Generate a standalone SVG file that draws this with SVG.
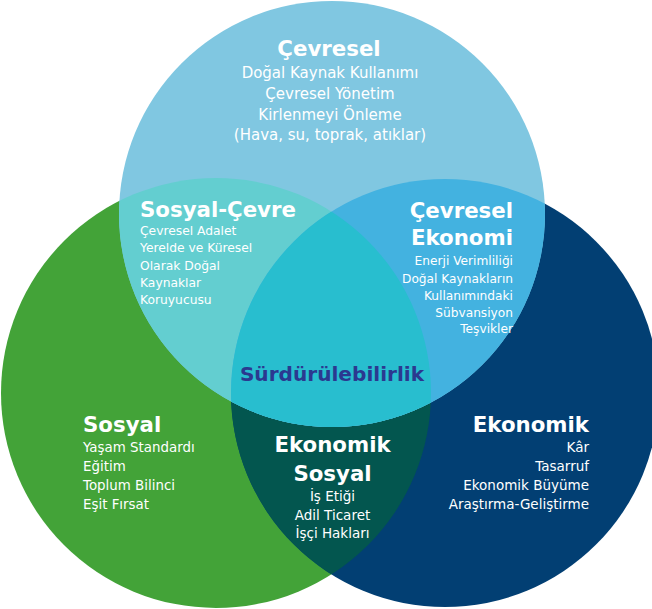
<svg xmlns="http://www.w3.org/2000/svg" width="652" height="609" viewBox="0 0 652 609">
<style>
.t{font-family:"DejaVu Sans","Liberation Sans",sans-serif;font-weight:bold;font-size:21.3px;fill:#fff}
.b{font-family:"DejaVu Sans","Liberation Sans",sans-serif;fill:#fff}
.m{text-anchor:middle}
.e{text-anchor:end}
</style>
<defs>
<clipPath id="cL"><circle cx="216" cy="393" r="215"/></clipPath>
<clipPath id="cR"><circle cx="445" cy="393" r="214"/></clipPath>
</defs>
<rect width="652" height="609" fill="#fff"/>
<g id="sosyal">
<circle cx="216" cy="393" r="215" fill="#43A338"/>
<text class="t" x="83" y="432">Sosyal</text>
<g class="b" font-size="13.4">
<text x="83" y="452">Yaşam Standardı</text>
<text x="83" y="471">Eğitim</text>
<text x="83" y="490">Toplum Bilinci</text>
<text x="83" y="509">Eşit Fırsat</text>
</g>
</g>
<g id="ekonomik">
<circle cx="445" cy="393" r="214" fill="#023F73"/>
<text class="t e" x="589" y="432">Ekonomik</text>
<g class="b e" font-size="13.5">
<text x="589" y="452">Kâr</text>
<text x="589" y="471">Tasarruf</text>
<text x="589" y="490">Ekonomik Büyüme</text>
<text x="589" y="509">Araştırma-Geliştirme</text>
</g>
</g>
<g id="ekonomik-sosyal">
<circle cx="445" cy="393" r="214" fill="#03564F" clip-path="url(#cL)"/>
<text class="t m" x="332.5" y="452">Ekonomik</text>
<text class="t m" x="332.5" y="481">Sosyal</text>
<g class="b m" font-size="13.5">
<text x="332.5" y="501">İş Etiği</text>
<text x="332.5" y="519.5">Adil Ticaret</text>
<text x="332.5" y="538">İşçi Hakları</text>
</g>
</g>
<g id="cevresel">
<circle cx="332" cy="214" r="213" fill="#80C7E1"/>
<text class="t m" x="329" y="56">Çevresel</text>
<g class="b m" font-size="15">
<text x="330" y="78">Doğal Kaynak Kullanımı</text>
<text x="330" y="99">Çevresel Yönetim</text>
<text x="330" y="120">Kirlenmeyi Önleme</text>
<text x="330" y="140">(Hava, su, toprak, atıklar)</text>
</g>
</g>
<g id="sosyal-cevre">
<circle cx="332" cy="214" r="213" fill="#63CED0" clip-path="url(#cL)"/>
<text class="t" x="140" y="217">Sosyal-Çevre</text>
<g class="b" font-size="12.3">
<text x="140" y="235">Çevresel Adalet</text>
<text x="140" y="252">Yerelde ve Küresel</text>
<text x="140" y="269.5">Olarak Doğal</text>
<text x="140" y="286.5">Kaynaklar</text>
<text x="140" y="303.5">Koruyucusu</text>
</g>
</g>
<g id="cevresel-ekonomi">
<circle cx="332" cy="214" r="213" fill="#43B2E0" clip-path="url(#cR)"/>
<text class="t e" x="513" y="218">Çevresel</text>
<text class="t e" x="513" y="245">Ekonomi</text>
<g class="b e" font-size="12.2">
<text x="513" y="265">Enerji Verimliliği</text>
<text x="513" y="282.5">Doğal Kaynakların</text>
<text x="513" y="300">Kullanımındaki</text>
<text x="513" y="316.5">Sübvansiyon</text>
<text x="513" y="333">Teşvikler</text>
</g>
</g>
<g id="surdurulebilirlik">
<g clip-path="url(#cL)"><circle cx="332" cy="214" r="213" fill="#28BECF" clip-path="url(#cR)"/></g>
<text class="t m" x="332" y="381" style="font-size:20.1px;fill:#2B3990">Sürdürülebilirlik</text>
</g>
</svg>
